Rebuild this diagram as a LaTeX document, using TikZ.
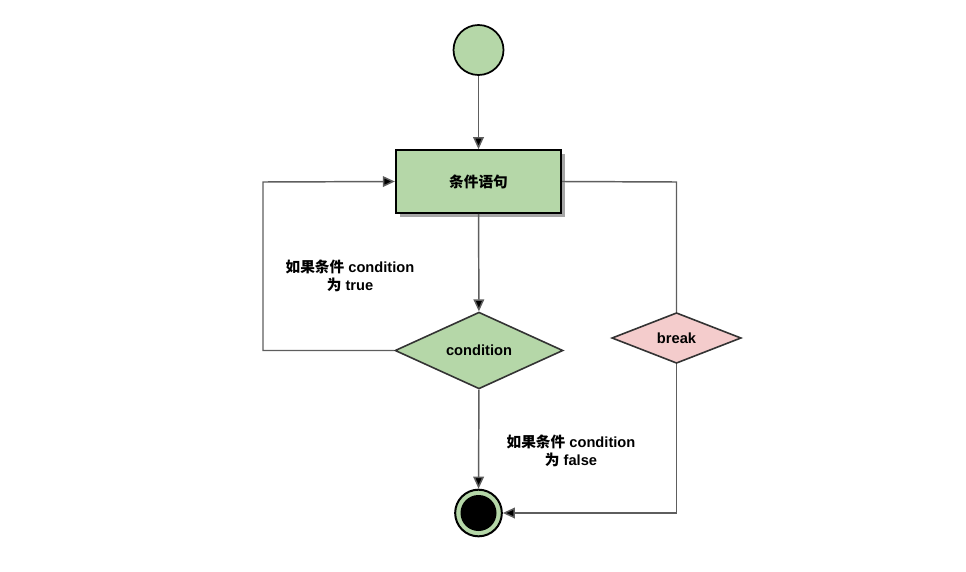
\documentclass[tikz,border=0pt]{standalone}
\usepackage{fontspec}
\setmainfont{Liberation Sans}
\newfontfamily\cjk{Noto Sans CJK SC}
\usetikzlibrary{shapes.geometric,arrows.meta,shadows}
\definecolor{gfill}{HTML}{B5D7A8}
\definecolor{pfill}{HTML}{F4CCCC}
\definecolor{lcol}{HTML}{5E5E5E}
\tikzset{
  px/.style={x=0.75pt,y=-0.75pt},
  conn/.style={draw=lcol,line width=1.1pt,-{Triangle[length=9pt,width=8pt,fill=black]}},
  plainline/.style={draw=lcol,line width=1.1pt},
  lbl/.style={font=\bfseries\fontsize{11pt}{13.5pt}\selectfont,align=center,text=black},
  dia/.style={diamond,draw=black!80,line width=1.2pt,inner sep=0pt,font=\bfseries\fontsize{11pt}{13pt}\selectfont}
}
\begin{document}
\begin{tikzpicture}[px]
\useasboundingbox (0,0) rectangle (966,571);
\node[circle,draw=black,line width=1.3pt,fill=gfill,minimum size=37.5pt,inner sep=0pt] (start) at (478.5,50) {};
\node[rectangle,draw=black,line width=1.5pt,fill=gfill,minimum width=124pt,minimum height=47pt,inner sep=0pt,
      drop shadow={shadow xshift=3pt,shadow yshift=-3pt,fill=black!35,opacity=1},
      font=\cjk\bfseries\fontsize{11pt}{13pt}\selectfont] (box) at (478.5,181.5) {条件语句};
\node[dia,fill=gfill,minimum width=126pt,minimum height=56pt] (cond) at (479,350.5) {condition};
\node[dia,fill=pfill,minimum width=97pt,minimum height=38pt] (brk) at (676.5,338) {break};
\node[circle,draw=black,line width=1.5pt,fill=gfill,minimum size=35pt,inner sep=0pt] (end) at (478.5,513) {};
\node[circle,fill=black,minimum size=27pt,inner sep=0pt] (endin) at (478.5,513) {};
\coordinate (tl) at (263,182);
\coordinate (bl) at (263,350.5);
\coordinate (tr) at (676.5,182);
\coordinate (br) at (676.5,513);
\draw[conn] (start) -- (box);
\draw[conn] (box) -- (cond);
\draw[conn] (cond) -- (end);
\draw[conn] (cond.west) -- (bl) -- (tl) -- (box.west);
\draw[plainline] (box.east) -- (tr) -- (brk.north);
\draw[conn] (brk.south) -- (br) -- (end.east);
\node[lbl] (ltrue) at (350,276) {{\cjk 如果条件} condition\\{\cjk 为} true};
\node[lbl] (lfalse) at (571,451) {{\cjk 如果条件} condition\\{\cjk 为} false};
\end{tikzpicture}
\end{document}
